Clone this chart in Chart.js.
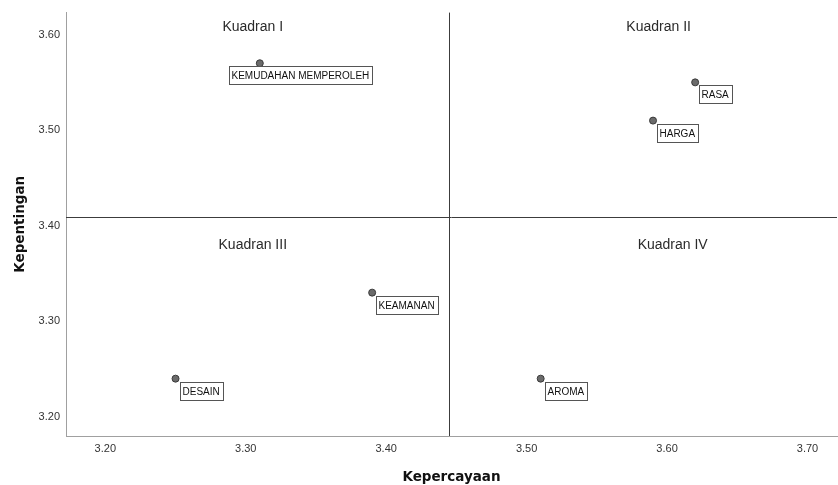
<!DOCTYPE html>
<html lang="id">
<head>
    <meta charset="UTF-8">
    <title>Kuadran Kepercayaan - Kepentingan</title>
    <script src="https://cdn.jsdelivr.net/npm/chart.js"></script>
    <style>
        html, body { margin: 0; padding: 0; background: #fff; }
        #wrap { width: 838px; height: 485px; }
    </style>
</head>
<body>
<div id="wrap"><canvas id="quadChart"></canvas></div>
<script>
// data
const atribut = ['KEMUDAHAN MEMPEROLEH', 'RASA', 'HARGA', 'KEAMANAN', 'DESAIN', 'AROMA'];
const kepercayaan = [3.31, 3.62, 3.59, 3.39, 3.25, 3.51];
const kepentingan = [3.57, 3.55, 3.51, 3.33, 3.24, 3.24];
const xTicks = [3.20, 3.30, 3.40, 3.50, 3.60, 3.70];
const yTicks = [3.20, 3.30, 3.40, 3.50, 3.60];
const quadrantNames = ['Kuadran I', 'Kuadran II', 'Kuadran III', 'Kuadran IV'];
const quadrantX = [3.305, 3.594, 3.305, 3.604];
const quadrantY = [3.608, 3.608, 3.380, 3.380];

// reference lines (roughly the averages of both axes)
const refX = 3.445;
const refY = 3.409;

const points = atribut.map((name, i) => ({ x: kepercayaan[i], y: kepentingan[i] }));

// label box sits below-right of the point, except where SPSS moved it
const labelShift = { 'KEMUDAHAN MEMPEROLEH': -31 };

const quadrantPlugin = {
    id: 'quadrants',
    beforeDatasetsDraw(chart) {
        const { ctx, chartArea: a, scales: { x, y } } = chart;
        const px = Math.round(x.getPixelForValue(refX)) + 0.5;
        const py = Math.round(y.getPixelForValue(refY)) + 0.5;
        ctx.save();
        ctx.strokeStyle = '#3c3c3c';
        ctx.lineWidth = 1;
        ctx.beginPath();
        ctx.moveTo(px, a.top);
        ctx.lineTo(px, a.bottom);
        ctx.moveTo(a.left, py);
        ctx.lineTo(a.right, py);
        ctx.stroke();

        ctx.fillStyle = '#2a2a2a';
        ctx.font = '14px "Liberation Sans", Arial, sans-serif';
        ctx.textAlign = 'center';
        ctx.textBaseline = 'middle';
        quadrantNames.forEach((q, i) => {
            ctx.fillText(q, x.getPixelForValue(quadrantX[i]), y.getPixelForValue(quadrantY[i]));
        });
        ctx.restore();
    },
    afterDatasetsDraw(chart) {
        const { ctx } = chart;
        const meta = chart.getDatasetMeta(0);
        ctx.save();
        ctx.font = '10px "Liberation Sans", Arial, sans-serif';
        ctx.textBaseline = 'middle';
        ctx.textAlign = 'left';
        meta.data.forEach((el, i) => {
            const name = atribut[i];
            const w = Math.ceil(ctx.measureText(name).width) + 5;
            const h = 18;
            const bx = Math.round(el.x + (labelShift[name] !== undefined ? labelShift[name] : 4)) + 0.5;
            const by = Math.round(el.y + 3) + 0.5;
            ctx.fillStyle = '#fff';
            ctx.fillRect(bx, by, w, h);
            ctx.strokeStyle = '#555';
            ctx.lineWidth = 1;
            ctx.strokeRect(bx, by, w, h);
            ctx.fillStyle = '#111';
            ctx.fillText(name, bx + 2, by + h / 2 + 0.5);
        });
        ctx.restore();
    }
};

new Chart(document.getElementById('quadChart'), {
    type: 'scatter',
    data: {
        datasets: [{
            label: 'Atribut',
            data: points,
            pointRadius: 3.5,
            pointBackgroundColor: '#6b6b6b',
            pointBorderColor: '#3a3a3a',
            pointBorderWidth: 1
        }]
    },
    options: {
        responsive: true,
        maintainAspectRatio: false,
        animation: false,
        layout: { autoPadding: false, padding: { top: 12, right: 1, left: 0, bottom: 0 } },
        plugins: {
            legend: { display: false },
            tooltip: { enabled: false }
        },
        scales: {
            x: {
                type: 'linear',
                min: 3.172,
                max: 3.721,
                afterBuildTicks: s => { s.ticks = xTicks.map(v => ({ value: v })); },
                afterFit: s => { s.height = 49; },
                grid: { display: false, drawTicks: false },
                border: { display: true, color: '#a0a0a0', width: 1 },
                ticks: {
                    padding: 6,
                    color: '#333',
                    font: { family: '"Liberation Sans", Arial, sans-serif', size: 11 },
                    callback: v => Number(v).toFixed(2)
                },
                title: {
                    display: true,
                    text: 'Kepercayaan',
                    color: '#111',
                    padding: { top: 0, bottom: -1 },
                    font: { family: '"DejaVu Sans", sans-serif', size: 13.5, weight: 'bold' }
                }
            },
            y: {
                type: 'linear',
                min: 3.18,
                max: 3.623,
                afterBuildTicks: s => { s.ticks = yTicks.map(v => ({ value: v })); },
                afterFit: s => { s.width = 66; },
                grid: { display: false, drawTicks: false },
                border: { display: true, color: '#a0a0a0', width: 1 },
                ticks: {
                    padding: 6,
                    color: '#333',
                    font: { family: '"Liberation Sans", Arial, sans-serif', size: 11 },
                    callback: v => Number(v).toFixed(2)
                },
                title: {
                    display: true,
                    text: 'Kepentingan',
                    color: '#111',
                    padding: { top: 12, bottom: 0 },
                    font: { family: '"DejaVu Sans", sans-serif', size: 13.5, weight: 'bold' }
                }
            }
        }
    },
    plugins: [quadrantPlugin]
});
</script>
</body>
</html>
